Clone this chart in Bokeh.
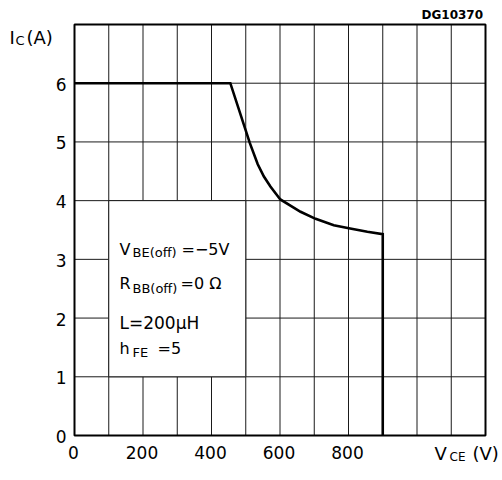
from bokeh.plotting import figure
from bokeh.models import Label, Range1d
from bokeh.core.properties import value
from bokeh.embed import file_html
from bokeh.resources import INLINE

# ---- data ----
vce = [0, 455, 512, 535, 553, 572, 601, 660, 704, 757, 801, 855, 900, 900]
ic = [6, 6, 4.98, 4.62, 4.41, 4.24, 4.02, 3.81, 3.69, 3.58, 3.53, 3.47, 3.43, 0]
x_ticks = [0, 200, 400, 600, 800]
x_tick_labels = ["0", "200", "400", "600", "800"]
y_ticks = [0, 1, 2, 3, 4, 5, 6]
y_tick_labels = ["0", "1", "2", "3", "4", "5", "6"]
x_grid = list(range(0, 1300, 100))
y_grid = list(range(0, 8))
x_lim = [0, 1200]
y_lim = [0, 7]
box_x = [100, 500]
box_y = [1, 4]

FONT = "DejaVu Sans"

# canvas and plot-area geometry (pixels)
W, H = 500, 476
FL, FT, FW, FH = 74, 24, 411, 411
sx = (x_lim[1] - x_lim[0]) / FW
sy = (y_lim[1] - y_lim[0]) / FH

p = figure(width=W, height=H, output_backend="svg", toolbar_location=None,
           x_range=Range1d(x_lim[0] - FL * sx, x_lim[1] + (W - FL - FW) * sx),
           y_range=Range1d(y_lim[0] - (H - FT - FH) * sy, y_lim[1] + FT * sy),
           min_border=0)
p.xaxis.visible = False
p.yaxis.visible = False
p.grid.visible = False
p.outline_line_color = None
p.background_fill_color = "white"
p.border_fill_color = "white"

GRID = "#1a1a1a"
# grid lines
p.segment(x0=x_grid, y0=[y_lim[0]] * len(x_grid), x1=x_grid, y1=[y_lim[1]] * len(x_grid),
          line_color=GRID, line_width=1)
p.segment(x0=[x_lim[0]] * len(y_grid), y0=y_grid, x1=[x_lim[1]] * len(y_grid), y1=y_grid,
          line_color=GRID, line_width=1)

# white parameter box covering the grid
p.quad(left=[box_x[0]], right=[box_x[1]], bottom=[box_y[0]], top=[box_y[1]],
       fill_color="white", line_color=GRID, line_width=1)

# plot frame
p.quad(left=[x_lim[0]], right=[x_lim[1]], bottom=[y_lim[0]], top=[y_lim[1]],
       fill_color=None, line_color="black", line_width=2)

# curve
p.line(vce, ic, line_color="black", line_width=2.6, line_join="miter")

# tick labels
p.text(x=x_ticks, y=[y_lim[0]] * len(x_ticks), text=x_tick_labels,
       text_font=value(FONT), text_font_size="17px", text_color="black",
       text_align="center", text_baseline="top", y_offset=10, x_offset=-1)
p.text(x=[x_lim[0]] * len(y_ticks), y=y_ticks, text=y_tick_labels,
       text_font=value(FONT), text_font_size="17px", text_color="black",
       text_align="right", text_baseline="middle", x_offset=-8, y_offset=1)

DY = -5


def lab(txt, px, py, size, bold=False):
    p.add_layout(Label(x=px, y=py + DY, x_units="canvas", y_units="canvas",
                       text=txt, text_font=FONT,
                       text_font_size=f"{size}px", text_color="black",
                       text_align="left", text_baseline="alphabetic",
                       text_font_style="bold" if bold else "normal"))


# axis titles
lab("I", 9, 42, 18)
lab("C", 15, 45, 13)
lab("(A)", 26, 42, 18)
lab("V", 434, 458, 18)
lab("CE", 449, 461, 12)
lab("(V)", 472, 458, 18)
lab("DG10370", 421, 19, 12, bold=True)

# parameters
lab("V", 119, 254, 16)
lab("BE(off)", 132, 257, 13)
lab("=\u22125V", 181, 254, 16)
lab("R", 119, 288, 16)
lab("BB(off)", 132, 293, 13)
lab("=0 \u03a9", 180, 288, 16)
lab("L=200\u03bcH", 119, 327, 17)
lab("h", 119, 353, 16)
lab("FE", 132, 357, 13)
lab("=5", 157, 353, 16)

open("out.html", "w").write(file_html(p, INLINE))
